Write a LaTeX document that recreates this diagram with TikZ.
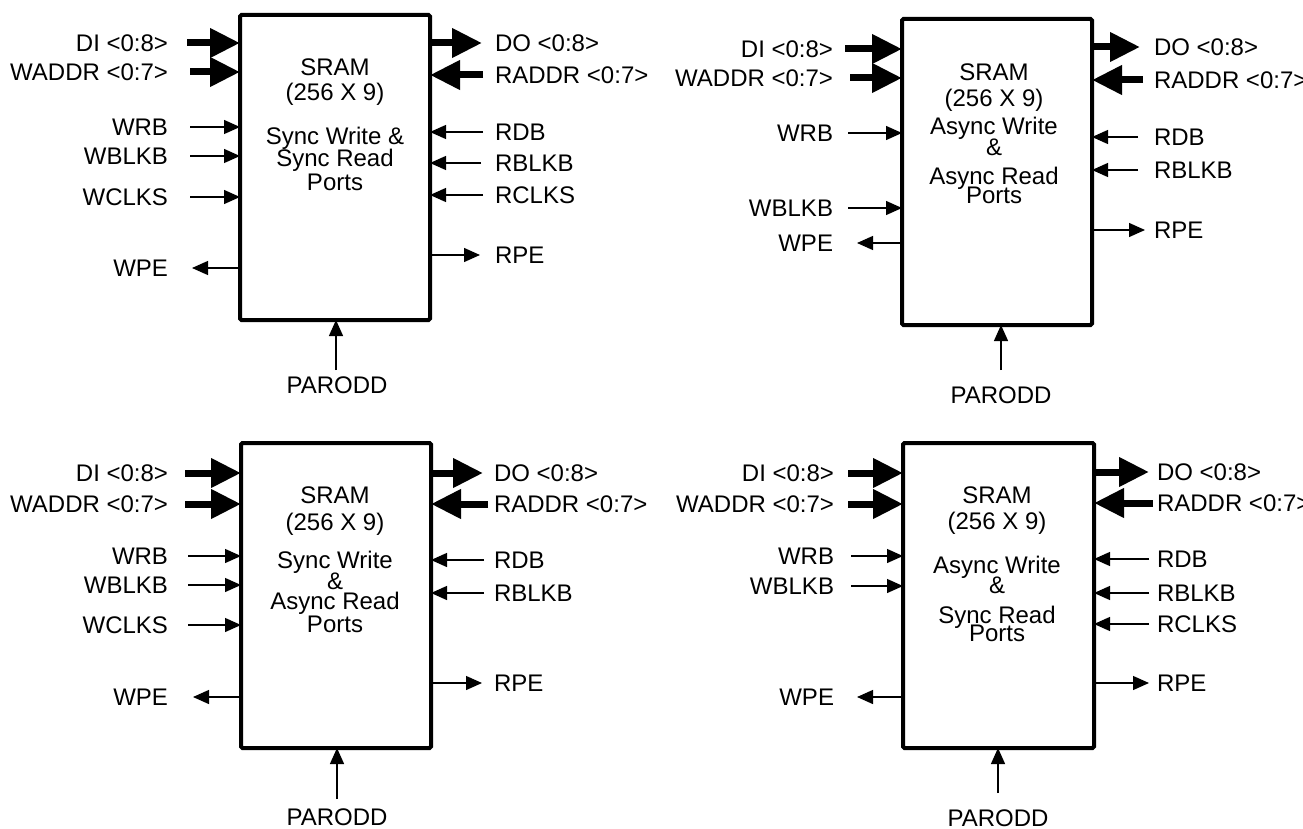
\documentclass[tikz,border=0pt]{standalone}
\usepackage{fontspec}
\setmainfont{Liberation Sans}
\usetikzlibrary{arrows.meta}
\begin{document}
\begin{tikzpicture}[x=1pt,y=-1pt,
  every node/.style={font=\fontsize{24}{26}\selectfont, inner sep=0pt, outer sep=0pt},
  blk/.style={draw, line width=4pt, rounded corners=1.5pt, inner sep=0pt, outer sep=0pt},
  bus/.style={line width=7pt, -{Triangle[length=30pt,width=28pt]}},
  wire/.style={line width=1.3pt, -{Triangle[length=16pt,width=14pt]}},
  lblL/.style={anchor=base east},
  lblR/.style={anchor=base west},
  txt/.style={anchor=base}]
\useasboundingbox (0,0) rectangle (1303,829);

% ---------------- Block 1 ----------------
\node[blk, minimum width=190pt, minimum height=305pt] (B1) at (335,167.5) {};
\node[txt] (b1t1) at (335,75.5) {SRAM};
\node[txt] (b1t2) at (335,100.5) {(256 X 9)};
\node[txt] (b1t3) at (335,145) {Sync Write \&};
\node[txt] (b1t4) at (335,167) {Sync Read};
\node[txt] (b1t5) at (335,191) {Ports};
% left
\node[lblL] (b1l1) at (168,51.5) {DI <0:8>};
\node[lblL] (b1l2) at (168,80.5) {WADDR <0:7>};
\node[lblL] (b1l3) at (168,135.5) {WRB};
\node[lblL] (b1l4) at (168,164.5) {WBLKB};
\node[lblL] (b1l5) at (168,205.5) {WCLKS};
\node[lblL] (b1l6) at (168,276.5) {WPE};
\coordinate (b1c1) at (187,43);
\coordinate (b1c2) at (190,72);
\coordinate (b1c3) at (190,127);
\coordinate (b1c4) at (190,156);
\coordinate (b1c5) at (190,197);
\coordinate (b1c6) at (192,268);
\draw[bus] (b1c1) -- (b1c1 -| B1.west);
\draw[bus] (b1c2) -- (b1c2 -| B1.west);
\draw[wire] (b1c3) -- (b1c3 -| B1.west);
\draw[wire] (b1c4) -- (b1c4 -| B1.west);
\draw[wire] (b1c5) -- (b1c5 -| B1.west);
\draw[wire] (b1c6 -| B1.west) -- (b1c6);
% right
\node[lblR] (b1r1) at (495,51.5) {DO <0:8>};
\node[lblR] (b1r2) at (495,83.5) {RADDR <0:7>};
\node[lblR] (b1r3) at (495,140.5) {RDB};
\node[lblR] (b1r4) at (495,171.5) {RBLKB};
\node[lblR] (b1r5) at (495,203.5) {RCLKS};
\node[lblR] (b1r6) at (495,263.5) {RPE};
\coordinate (b1d1) at (482,43);
\coordinate (b1d2) at (483,75);
\coordinate (b1d3) at (483,132);
\coordinate (b1d4) at (481,163);
\coordinate (b1d5) at (483,195);
\coordinate (b1d6) at (480,255);
\draw[bus] (b1d1 -| B1.east) -- (b1d1);
\draw[bus] (b1d2) -- (b1d2 -| B1.east);
\draw[wire] (b1d3) -- (b1d3 -| B1.east);
\draw[wire] (b1d4) -- (b1d4 -| B1.east);
\draw[wire] (b1d5) -- (b1d5 -| B1.east);
\draw[wire] (b1d6 -| B1.east) -- (b1d6);
% bottom
\node[txt] (b1p) at (337,393.5) {PARODD};
\coordinate (b1pc) at (336,370);
\draw[wire] (b1pc) -- (b1pc |- B1.south);

% ---------------- Block 2 ----------------
\node[blk, minimum width=190pt, minimum height=306pt] (B2) at (997,172) {};
\node[txt] (b2t1) at (994,80.5) {SRAM};
\node[txt] (b2t2) at (994,106.5) {(256 X 9)};
\node[txt] (b2t3) at (994,135) {Async Write};
\node[txt] (b2t4) at (994,155.5) {\&};
\node[txt] (b2t5) at (994,185) {Async Read};
\node[txt] (b2t6) at (994,203.5) {Ports};
% left
\node[lblL] (b2l1) at (833,57.5) {DI <0:8>};
\node[lblL] (b2l2) at (833,86.5) {WADDR <0:7>};
\node[lblL] (b2l3) at (833,141.5) {WRB};
\node[lblL] (b2l4) at (833,216.5) {WBLKB};
\node[lblL] (b2l5) at (833,251.5) {WPE};
\coordinate (b2c1) at (845,49);
\coordinate (b2c2) at (850,78);
\coordinate (b2c3) at (848,133);
\coordinate (b2c4) at (848,208);
\coordinate (b2c5) at (857,243);
\draw[bus] (b2c1) -- (b2c1 -| B2.west);
\draw[bus] (b2c2) -- (b2c2 -| B2.west);
\draw[wire] (b2c3) -- (b2c3 -| B2.west);
\draw[wire] (b2c4) -- (b2c4 -| B2.west);
\draw[wire] (b2c5 -| B2.west) -- (b2c5);
% right
\node[lblR] (b2r1) at (1154,55.5) {DO <0:8>};
\node[lblR] (b2r2) at (1154,88.5) {RADDR <0:7>};
\node[lblR] (b2r3) at (1154,145.5) {RDB};
\node[lblR] (b2r4) at (1154,178.5) {RBLKB};
\node[lblR] (b2r5) at (1154,238.5) {RPE};
\coordinate (b2d1) at (1140,47);
\coordinate (b2d2) at (1143,80);
\coordinate (b2d3) at (1138,137);
\coordinate (b2d4) at (1138,170);
\coordinate (b2d5) at (1145,230);
\draw[bus] (b2d1 -| B2.east) -- (b2d1);
\draw[bus] (b2d2) -- (b2d2 -| B2.east);
\draw[wire] (b2d3) -- (b2d3 -| B2.east);
\draw[wire] (b2d4) -- (b2d4 -| B2.east);
\draw[wire] (b2d5 -| B2.east) -- (b2d5);
% bottom
\node[txt] (b2p) at (1001,403.5) {PARODD};
\coordinate (b2pc) at (1001,370);
\draw[wire] (b2pc) -- (b2pc |- B2.south);

% ---------------- Block 3 ----------------
\node[blk, minimum width=190pt, minimum height=305pt] (B3) at (336,595.5) {};
\node[txt] (b3t1) at (335,503.5) {SRAM};
\node[txt] (b3t2) at (335,530) {(256 X 9)};
\node[txt] (b3t3) at (335,568) {Sync Write};
\node[txt] (b3t4) at (335,589.5) {\&};
\node[txt] (b3t5) at (335,609) {Async Read};
\node[txt] (b3t6) at (335,632.5) {Ports};
% left
\node[lblL] (b3l1) at (168,481.5) {DI <0:8>};
\node[lblL] (b3l2) at (168,512.5) {WADDR <0:7>};
\node[lblL] (b3l3) at (168,564.5) {WRB};
\node[lblL] (b3l4) at (168,593.5) {WBLKB};
\node[lblL] (b3l5) at (168,633.5) {WCLKS};
\node[lblL] (b3l6) at (168,705.5) {WPE};
\coordinate (b3c1) at (185,473);
\coordinate (b3c2) at (185,504);
\coordinate (b3c3) at (188,556);
\coordinate (b3c4) at (188,585);
\coordinate (b3c5) at (188,625);
\coordinate (b3c6) at (193,697);
\draw[bus] (b3c1) -- (b3c1 -| B3.west);
\draw[bus] (b3c2) -- (b3c2 -| B3.west);
\draw[wire] (b3c3) -- (b3c3 -| B3.west);
\draw[wire] (b3c4) -- (b3c4 -| B3.west);
\draw[wire] (b3c5) -- (b3c5 -| B3.west);
\draw[wire] (b3c6 -| B3.west) -- (b3c6);
% right
\node[lblR] (b3r1) at (494,481.5) {DO <0:8>};
\node[lblR] (b3r2) at (494,512.5) {RADDR <0:7>};
\node[lblR] (b3r3) at (494,568.5) {RDB};
\node[lblR] (b3r4) at (494,601.5) {RBLKB};
\node[lblR] (b3r5) at (494,691.5) {RPE};
\coordinate (b3d1) at (483,473);
\coordinate (b3d2) at (488,504);
\coordinate (b3d3) at (484,560);
\coordinate (b3d4) at (484,593);
\coordinate (b3d5) at (482,683);
\draw[bus] (b3d1 -| B3.east) -- (b3d1);
\draw[bus] (b3d2) -- (b3d2 -| B3.east);
\draw[wire] (b3d3) -- (b3d3 -| B3.east);
\draw[wire] (b3d4) -- (b3d4 -| B3.east);
\draw[wire] (b3d5 -| B3.east) -- (b3d5);
% bottom
\node[txt] (b3p) at (337,825.5) {PARODD};
\coordinate (b3pc) at (337,799);
\draw[wire] (b3pc) -- (b3pc |- B3.south);

% ---------------- Block 4 ----------------
\node[blk, minimum width=191pt, minimum height=305pt] (B4) at (998.5,595.5) {};
\node[txt] (b4t1) at (997,503.5) {SRAM};
\node[txt] (b4t2) at (997,529.5) {(256 X 9)};
\node[txt] (b4t3) at (997,573) {Async Write};
\node[txt] (b4t4) at (997,593.5) {\&};
\node[txt] (b4t5) at (997,623) {Sync Read};
\node[txt] (b4t6) at (997,641.5) {Ports};
% left
\node[lblL] (b4l1) at (834,481.5) {DI <0:8>};
\node[lblL] (b4l2) at (834,512.5) {WADDR <0:7>};
\node[lblL] (b4l3) at (834,564.5) {WRB};
\node[lblL] (b4l4) at (834,594.5) {WBLKB};
\node[lblL] (b4l5) at (834,705.5) {WPE};
\coordinate (b4c1) at (848,473);
\coordinate (b4c2) at (848,504);
\coordinate (b4c3) at (851,556);
\coordinate (b4c4) at (851,586);
\coordinate (b4c5) at (857,697);
\draw[bus] (b4c1) -- (b4c1 -| B4.west);
\draw[bus] (b4c2) -- (b4c2 -| B4.west);
\draw[wire] (b4c3) -- (b4c3 -| B4.west);
\draw[wire] (b4c4) -- (b4c4 -| B4.west);
\draw[wire] (b4c5 -| B4.west) -- (b4c5);
% right
\node[lblR] (b4r1) at (1157,480.5) {DO <0:8>};
\node[lblR] (b4r2) at (1157,511.5) {RADDR <0:7>};
\node[lblR] (b4r3) at (1157,567.5) {RDB};
\node[lblR] (b4r4) at (1157,601.5) {RBLKB};
\node[lblR] (b4r5) at (1157,632.5) {RCLKS};
\node[lblR] (b4r6) at (1157,691.5) {RPE};
\coordinate (b4d1) at (1149,472);
\coordinate (b4d2) at (1153,503);
\coordinate (b4d3) at (1149,559);
\coordinate (b4d4) at (1149,593);
\coordinate (b4d5) at (1149,624);
\coordinate (b4d6) at (1149,683);
\draw[bus] (b4d1 -| B4.east) -- (b4d1);
\draw[bus] (b4d2) -- (b4d2 -| B4.east);
\draw[wire] (b4d3) -- (b4d3 -| B4.east);
\draw[wire] (b4d4) -- (b4d4 -| B4.east);
\draw[wire] (b4d5) -- (b4d5 -| B4.east);
\draw[wire] (b4d6 -| B4.east) -- (b4d6);
% bottom
\node[txt] (b4p) at (998,826.5) {PARODD};
\coordinate (b4pc) at (998,793);
\draw[wire] (b4pc) -- (b4pc |- B4.south);
\end{tikzpicture}
\end{document}
